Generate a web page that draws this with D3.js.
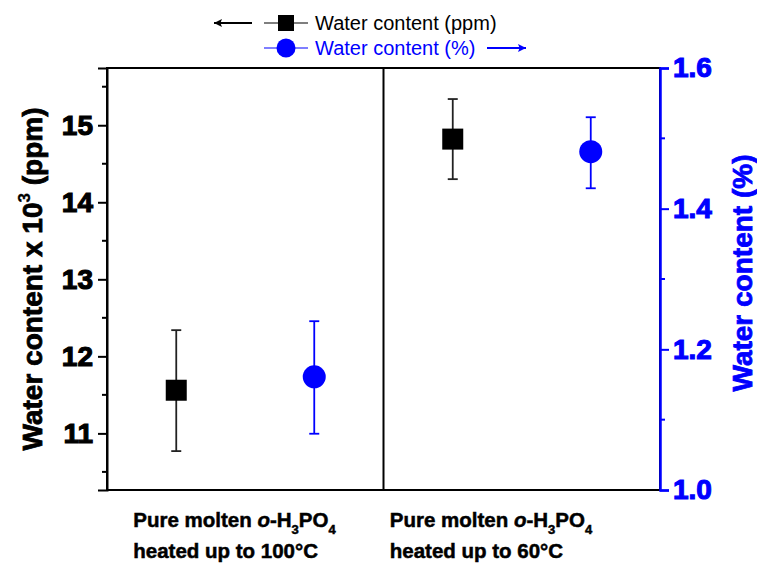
<!DOCTYPE html>
<html>
<head>
<meta charset="utf-8">
<script src="https://cdn.jsdelivr.net/npm/d3@7"></script>
<style>
  html, body { margin: 0; padding: 0; background: #fff; }
  svg { display: block; font-family: "Liberation Sans", Arial, sans-serif; }
  .tick text { font-weight: bold; font-family: "Liberation Sans", Arial, sans-serif; }
</style>
</head>
<body>
<svg id="chart" width="757" height="564"></svg>
<script>
// ---- data ----
const categories = ["100C", "60C"];
const categoryLine2 = ["heated up to 100°C", "heated up to 60°C"];
const ppmValues = [11.56, 14.82];      // x 10^3 ppm
const ppmErrLow = [10.77, 14.30];
const ppmErrHigh = [12.34, 15.34];
const pctValues = [1.161, 1.481];      // %
const pctErrLow = [1.080, 1.429];
const pctErrHigh = [1.240, 1.530];
const leftTicks = [11, 12, 13, 14, 15];
const leftMinorTicks = [10.5, 11.5, 12.5, 13.5, 14.5, 15.5];
const rightTicks = [1.0, 1.2, 1.4, 1.6];
const rightMinorTicks = [1.1, 1.3, 1.5];

const BLUE = "#0000ff";
const svg = d3.select("#chart");
const m = { left: 107, right: 660, top: 68, bottom: 490 };

const x = d3.scaleBand().domain(categories).range([m.left, m.right]);
const yL = d3.scaleLinear().domain([10.265, 15.743]).range([m.bottom, m.top]);
const yR = d3.scaleLinear().domain([1.0, 1.6]).range([m.bottom, m.top]);
const off = 69;

// frame
svg.append("rect").attr("x", m.left).attr("y", m.top)
  .attr("width", m.right - m.left).attr("height", m.bottom - m.top)
  .attr("fill", "none").attr("stroke", "#000").attr("stroke-width", 2);
// divider
svg.append("line").attr("x1", x(categories[1])).attr("x2", x(categories[1]))
  .attr("y1", m.top).attr("y2", m.bottom).attr("stroke", "#000").attr("stroke-width", 2);

// left axis
const gL = svg.append("g").attr("transform", `translate(${m.left},0)`);
gL.call(d3.axisLeft(yL).tickValues(leftTicks).tickSize(9).tickPadding(5).tickFormat(d3.format("d")));
gL.attr("font-size", 28).attr("font-family", null);
gL.select(".domain").attr("stroke", "#000").attr("stroke-width", 2);
gL.selectAll(".tick line").attr("stroke-width", 2);
gL.selectAll(".tick text").style("font-size", "28px").style("font-weight", "bold")
  .style("fill", "#000").style("stroke", "#000").style("stroke-width", "1.1px");
gL.selectAll(".minor").data(leftMinorTicks).enter().append("line")
  .attr("x1", -5).attr("x2", 0).attr("y1", d => yL(d)).attr("y2", d => yL(d))
  .attr("stroke", "#000").attr("stroke-width", 2);

// right axis
const gR = svg.append("g").attr("transform", `translate(${m.right},0)`);
gR.call(d3.axisRight(yR).tickValues(rightTicks).tickSize(9).tickPadding(4).tickFormat(d3.format(".1f")));
gR.attr("font-size", 28).attr("font-family", null);
gR.select(".domain").attr("stroke", BLUE).attr("stroke-width", 2.5);
gR.selectAll(".tick line").attr("stroke", BLUE).attr("stroke-width", 2);
gR.selectAll(".tick text").style("font-size", "28px").style("font-weight", "bold")
  .style("fill", BLUE).style("stroke", BLUE).style("stroke-width", "1.1px");
gR.selectAll(".minor").data(rightMinorTicks).enter().append("line")
  .attr("x1", 0).attr("x2", 5).attr("y1", d => yR(d)).attr("y2", d => yR(d))
  .attr("stroke", BLUE).attr("stroke-width", 2);

// axis titles
const tL = svg.append("text").attr("transform", `translate(42,${(m.top + m.bottom) / 2}) rotate(-90)`)
  .attr("text-anchor", "middle").attr("font-size", 28).attr("font-weight", "bold")
  .attr("fill", "#000").attr("stroke", "#000").attr("stroke-width", 0.8);
tL.append("tspan").text("Water content x 10");
tL.append("tspan").attr("font-size", 17).attr("dy", -12).attr("stroke-width", 0.3).text("3");
tL.append("tspan").attr("dy", 12).text(" (ppm)");

svg.append("text").attr("transform", `translate(752,${(m.top + m.bottom) / 2 - 6}) rotate(-90)`)
  .attr("text-anchor", "middle").attr("font-size", 28).attr("font-weight", "bold")
  .attr("fill", BLUE).attr("stroke", BLUE).attr("stroke-width", 0.8)
  .text("Water content (%)");

// error bars + markers
const cx = (i, s) => x(categories[i]) + x.bandwidth() / 2 + s * off;
categories.forEach((c, i) => {
  const xs = cx(i, -1);
  svg.append("line").attr("x1", xs).attr("x2", xs).attr("y1", yL(ppmErrLow[i])).attr("y2", yL(ppmErrHigh[i]))
    .attr("stroke", "#222").attr("stroke-width", 1.8);
  [ppmErrLow[i], ppmErrHigh[i]].forEach(v => svg.append("line")
    .attr("x1", xs - 5).attr("x2", xs + 5).attr("y1", yL(v)).attr("y2", yL(v))
    .attr("stroke", "#222").attr("stroke-width", 1.8));
  svg.append("rect").attr("x", xs - 10.5).attr("y", yL(ppmValues[i]) - 10.5)
    .attr("width", 21).attr("height", 21).attr("fill", "#000");

  const xc = cx(i, 1);
  svg.append("line").attr("x1", xc).attr("x2", xc).attr("y1", yR(pctErrLow[i])).attr("y2", yR(pctErrHigh[i]))
    .attr("stroke", BLUE).attr("stroke-width", 1.8);
  [pctErrLow[i], pctErrHigh[i]].forEach(v => svg.append("line")
    .attr("x1", xc - 5).attr("x2", xc + 5).attr("y1", yR(v)).attr("y2", yR(v))
    .attr("stroke", BLUE).attr("stroke-width", 1.8));
  svg.append("circle").attr("cx", xc).attr("cy", yR(pctValues[i])).attr("r", 11.5).attr("fill", BLUE);
});

// category labels
const labelShift = [-112, -132];
categories.forEach((c, i) => {
  const lx = x(c) + x.bandwidth() / 2 + labelShift[i];
  const t1 = svg.append("text").attr("x", lx).attr("y", 527).attr("font-size", 20.5)
    .attr("font-weight", "bold").attr("fill", "#000").attr("stroke", "#000").attr("stroke-width", 0.5);
  t1.append("tspan").text("Pure molten ");
  t1.append("tspan").attr("font-style", "italic").text("o");
  t1.append("tspan").text("-H");
  t1.append("tspan").attr("font-size", 13).attr("dy", 7).text("3");
  t1.append("tspan").attr("dy", -7).text("PO");
  t1.append("tspan").attr("font-size", 13).attr("dy", 7).text("4");
  svg.append("text").attr("x", lx).attr("y", 558).attr("font-size", 20.5)
    .attr("font-weight", "bold").attr("fill", "#000").attr("stroke", "#000").attr("stroke-width", 0.5)
    .text(categoryLine2[i]);
});

// legend
const defs = svg.append("defs");
[["ahK", "#000"], ["ahB", BLUE]].forEach(([id, col]) => {
  defs.append("marker").attr("id", id).attr("viewBox", "0 0 10 10").attr("refX", 10).attr("refY", 5)
    .attr("markerWidth", 13).attr("markerHeight", 8).attr("markerUnits", "userSpaceOnUse")
    .attr("orient", "auto").append("path").attr("d", "M0,0 L10,5 L0,10 L2,5 Z").attr("fill", col);
});
const lg = svg.append("g");
lg.append("line").attr("x1", 252).attr("x2", 214).attr("y1", 23).attr("y2", 23)
  .attr("stroke", "#000").attr("stroke-width", 2).attr("marker-end", "url(#ahK)");
lg.append("line").attr("x1", 264).attr("x2", 308).attr("y1", 23).attr("y2", 23).attr("stroke", "#000").attr("stroke-width", 1.2);
lg.append("rect").attr("x", 278).attr("y", 15).attr("width", 16).attr("height", 16).attr("fill", "#000");
lg.append("text").attr("x", 315).attr("y", 30).attr("font-size", 20).attr("fill", "#000").text("Water content (ppm)");

lg.append("line").attr("x1", 264).attr("x2", 308).attr("y1", 48).attr("y2", 48).attr("stroke", BLUE).attr("stroke-width", 1.2);
lg.append("circle").attr("cx", 286).attr("cy", 48).attr("r", 9.5).attr("fill", BLUE);
lg.append("text").attr("x", 315).attr("y", 55).attr("font-size", 20).attr("fill", BLUE).text("Water content (%)");
lg.append("line").attr("x1", 487).attr("x2", 526).attr("y1", 48).attr("y2", 48)
  .attr("stroke", BLUE).attr("stroke-width", 2).attr("marker-end", "url(#ahB)");
</script>
</body>
</html>
